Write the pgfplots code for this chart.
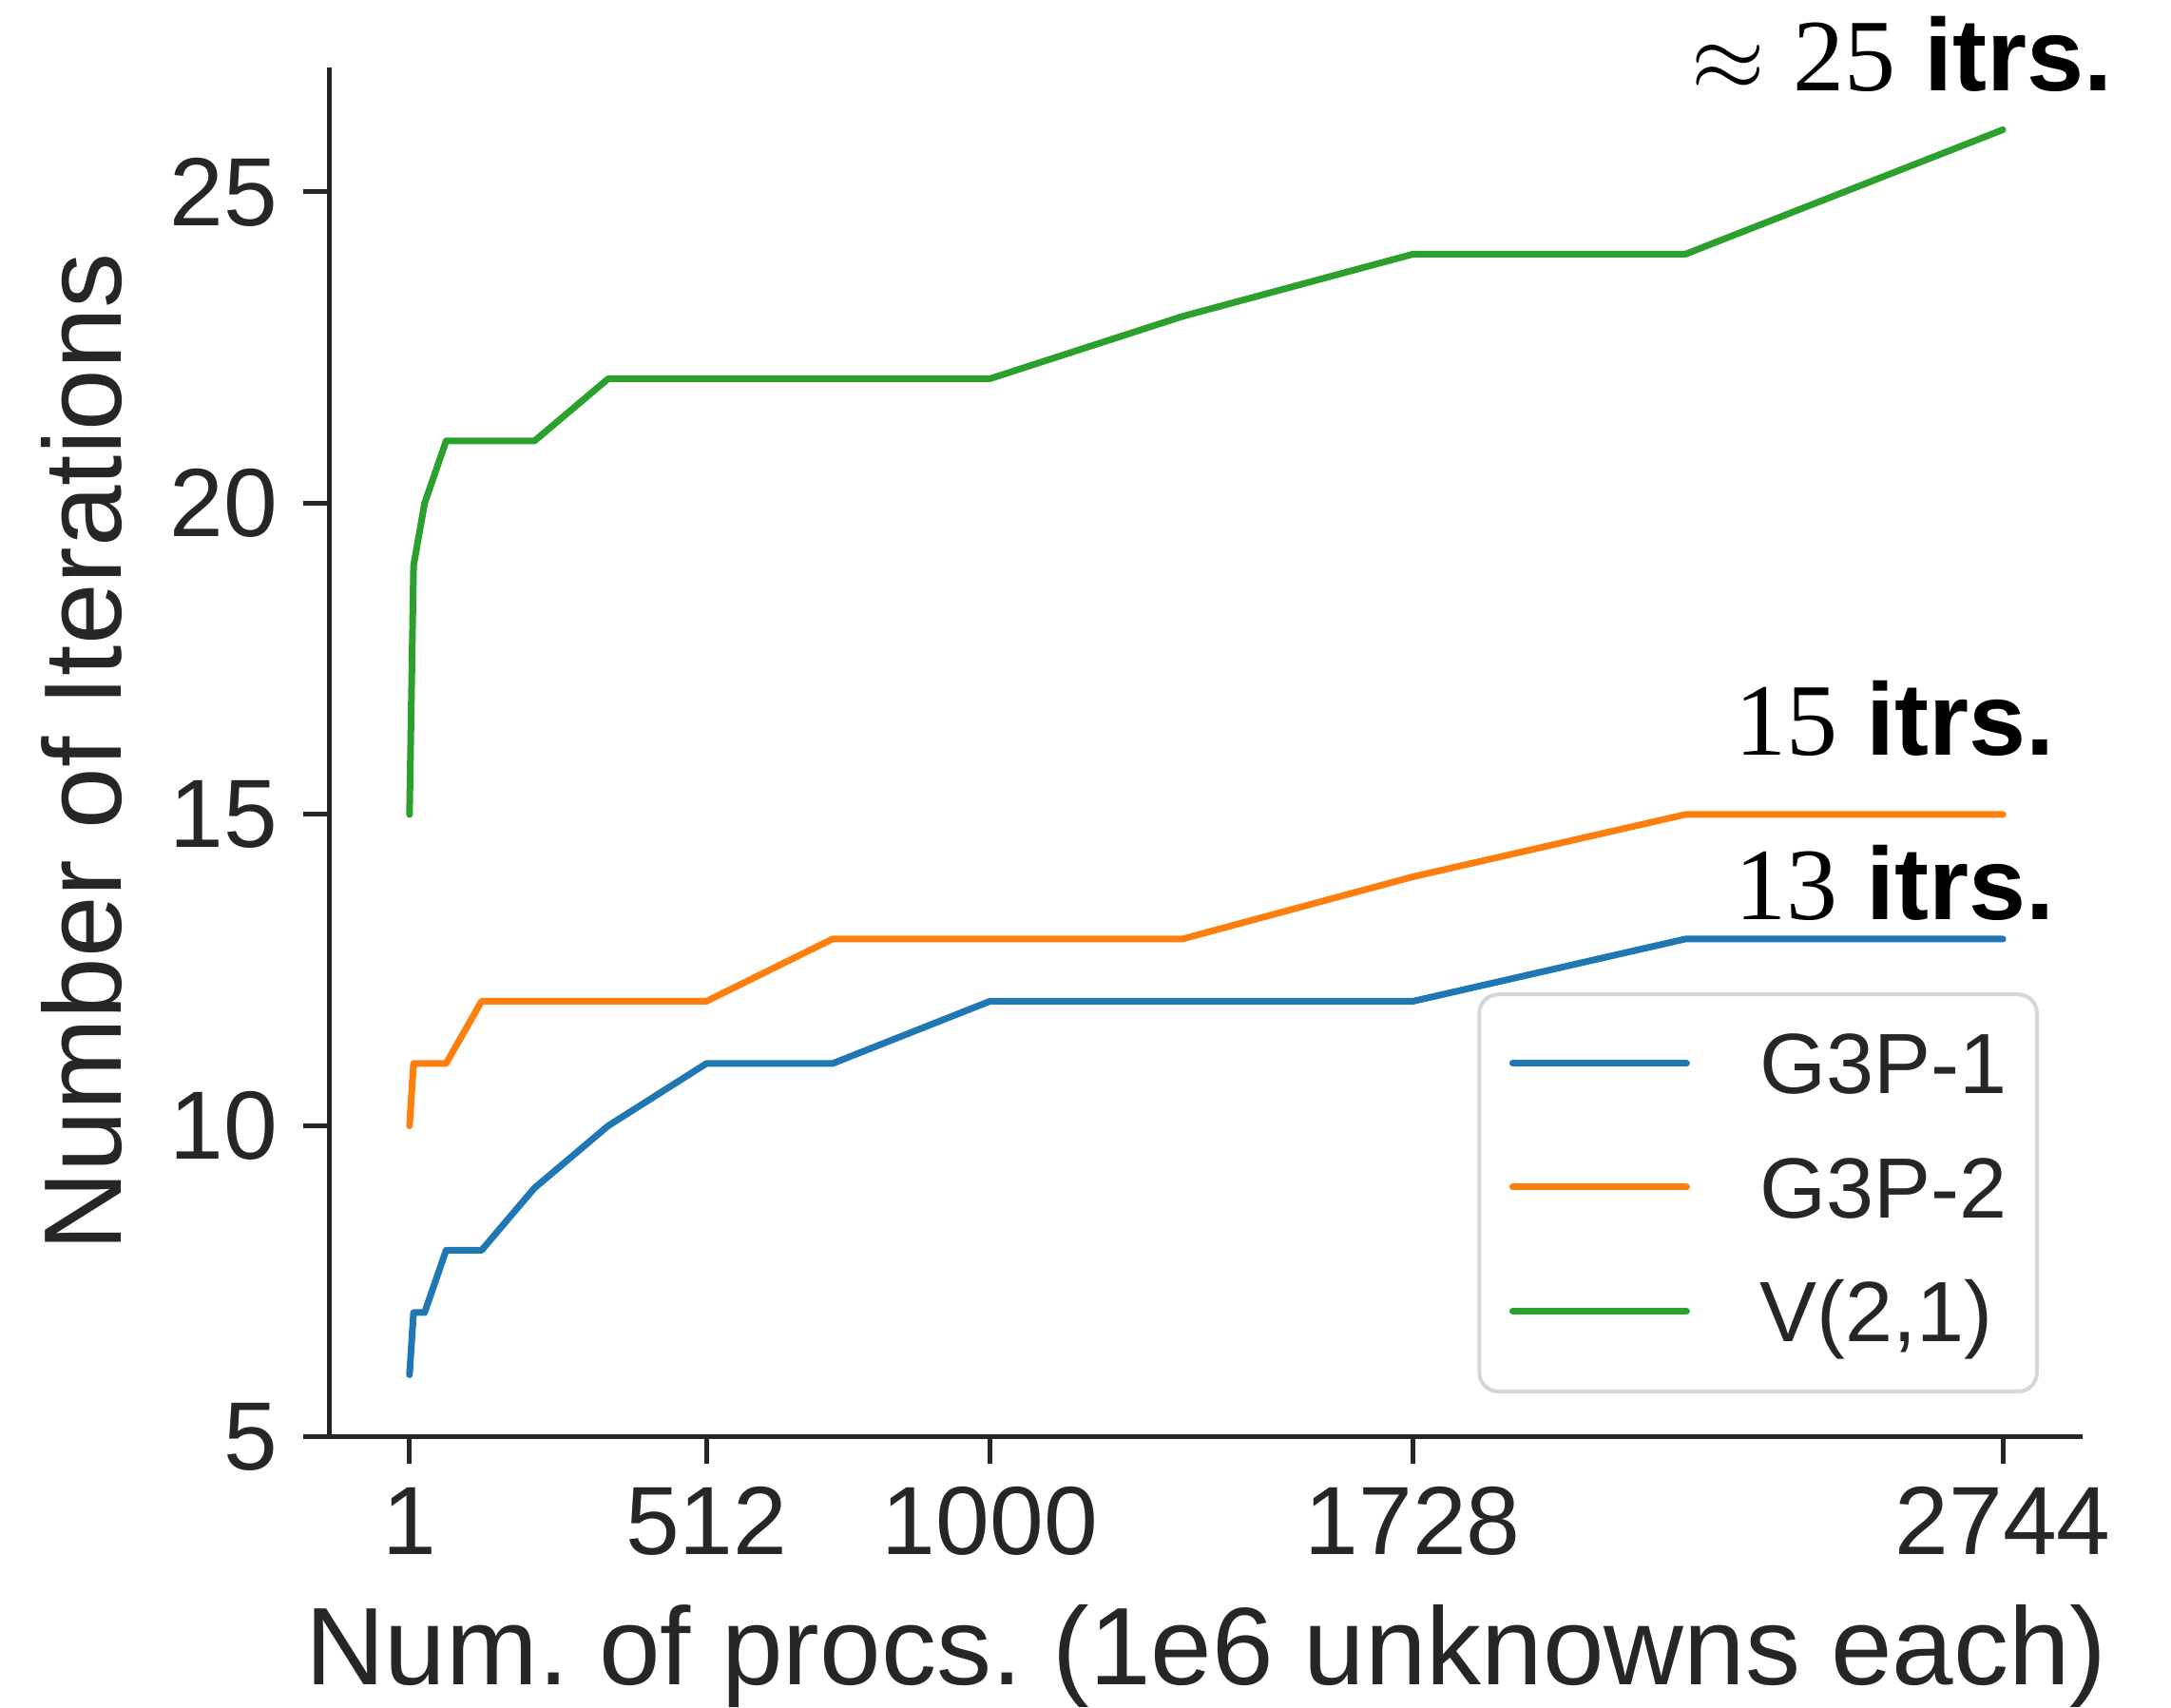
\documentclass[border=0pt]{standalone}
\usepackage{fontspec}
\setmainfont{Liberation Sans}
\newfontfamily\serifnum{Liberation Serif}
\usepackage{pgfplots}
\pgfplotsset{compat=1.18}

\definecolor{textgray}{HTML}{262626}
\definecolor{framegray}{HTML}{D6D6D6}
\definecolor{tabblue}{HTML}{1F77B4}
\definecolor{taborange}{HTML}{FF7F0E}
\definecolor{tabgreen}{HTML}{2CA02C}

\frenchspacing
\begin{document}
\begin{tikzpicture}
\begin{axis}[
  name=ax,
  scale only axis,
  width=461pt, height=360.25pt,
  xmin=-136.15, xmax=2881.15,
  ymin=5, ymax=27,
  clip=false,
  axis lines*=left,
  axis line style={line width=1.25pt, draw=textgray, -},
  xtick={1,512,1000,1728,2744},
  ytick={5,10,15,20,25},
  tick align=outside,
  major tick length=7pt,
  tick style={line width=1.25pt, draw=textgray},
  /pgf/number format/assume math mode=true,
  /pgf/number format/1000 sep={},
  ticklabel style={font=\fontsize{25.5}{30}\selectfont, text=textgray},
  xticklabel style={inner sep=0pt, anchor=base, yshift=-24pt},
  yticklabel style={inner sep=0pt, anchor=east, xshift=-6.6pt},
  xlabel={Num. of procs. (1e6 unknowns each)},
  ylabel={Number of Iterations},
  label style={font=\fontsize{29}{35}\selectfont, text=textgray, inner sep=0pt},
  xlabel style={at={(axis description cs:0.5,-0.1811)}, anchor=base},
  ylabel style={at={(axis description cs:-0.1188,0.5)}, anchor=base},
  legend style={
    at={(axis description cs:1,0)}, anchor=south east,
    xshift=-11.5pt, yshift=11.5pt,
    draw=framegray, line width=1pt, rounded corners=5pt, fill=white,
    font=\fontsize{22.5}{27}\selectfont, text=textgray,
    inner xsep=7.9pt, inner ysep=5pt,
    row sep=3.35pt,
    cells={anchor=base west},
    nodes={inner sep=0pt, text height=21.15pt, text depth=8.1pt},
    /tikz/every odd column/.append style={column sep=18.35pt},
  },
  legend image code/.code={
    \draw[#1, line width=1.75pt, line cap=round] (0pt,8.05pt) -- (45.75pt,8.05pt);
  },
]
% iterations versus processor count (cubes 1^3 ... 14^3)
\addplot[tabblue, line width=1.75pt, line join=round, line cap=round] coordinates {
  (1,6) (8,7) (27,7) (64,8) (125,8) (216,9) (343,10) (512,11)
  (729,11) (1000,12) (1331,12) (1728,12) (2197,13) (2744,13)
};
\addlegendentry{G3P-1}
\addplot[taborange, line width=1.75pt, line join=round, line cap=round] coordinates {
  (1,10) (8,11) (27,11) (64,11) (125,12) (216,12) (343,12) (512,12)
  (729,13) (1000,13) (1331,13) (1728,14) (2197,15) (2744,15)
};
\addlegendentry{G3P-2}
\addplot[tabgreen, line width=1.75pt, line join=round, line cap=round] coordinates {
  (1,15) (8,19) (27,20) (64,21) (125,21) (216,21) (343,22) (512,22)
  (729,22) (1000,22) (1331,23) (1728,24) (2197,24) (2744,26)
};
\addlegendentry{V(2,1)}

\node[anchor=base east, inner sep=0pt, font=\fontsize{27}{32}\selectfont]
  at (axis cs:2934,26.62) {$\approx$\ {\serifnum 25} \textbf{itrs.}};
\node[anchor=base east, inner sep=0pt, font=\fontsize{27}{32}\selectfont]
  at (axis cs:2834,15.96) {{\serifnum 15} \textbf{itrs.}};
\node[anchor=base east, inner sep=0pt, font=\fontsize{27}{32}\selectfont]
  at (axis cs:2834,13.32) {{\serifnum 13} \textbf{itrs.}};
\end{axis}
\pgfresetboundingbox
\path[use as bounding box]
  ([shift={(-86.75pt,-71.25pt)}]ax.south west)
  rectangle ([shift={(23.25pt,17.75pt)}]ax.north east);
\end{tikzpicture}
\end{document}
